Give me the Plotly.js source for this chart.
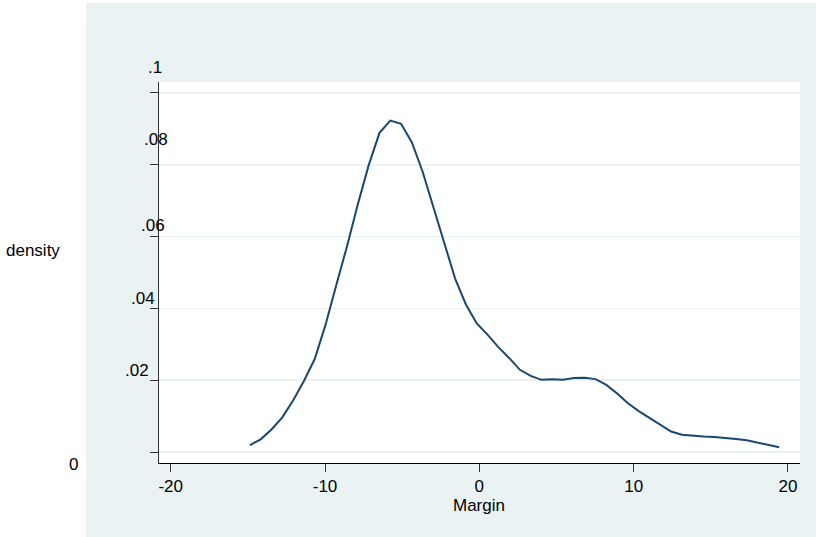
<!DOCTYPE html>
<html>
<head>
<meta charset="utf-8">
<script src="https://cdn.plot.ly/plotly-3.0.1.min.js"></script>
<style>html,body{margin:0;padding:0;background:#fff;}#chart{width:816px;height:537px;}</style>
</head>
<body>
<div id="chart"></div>
<script>
// Kernel density estimate of Margin (50 evaluation points)
const margin = [-14.87,-14.17,-13.47,-12.77,-12.07,-11.37,-10.67,-9.97,-9.27,-8.57,
  -7.87,-7.17,-6.47,-5.77,-5.07,-4.37,-3.67,-2.97,-2.27,-1.57,
  -0.87,-0.17,0.53,1.23,1.93,2.63,3.33,4.03,4.73,5.43,
  6.13,6.83,7.53,8.23,8.93,9.63,10.33,11.03,11.73,12.43,
  13.13,13.83,14.53,15.23,15.93,16.63,17.33,18.03,18.73,19.43];
const density = [0.00195,0.00354,0.00627,0.00967,0.01435,0.01978,0.0259,0.0354,0.0465,0.0574,
  0.0691,0.0799,0.0889,0.0923,0.0914,0.0862,0.0780,0.0681,0.0585,0.0483,
  0.0411,0.0358,0.0327,0.0292,0.0262,0.0229,0.0212,0.0201,0.0203,0.0201,
  0.0206,0.0207,0.0203,0.0187,0.0163,0.0136,0.0114,0.0095,0.0075,0.0057,
  0.0048,0.0045,0.0043,0.0042,0.0038,0.0036,0.0033,0.0026,0.0019,0.0013];
const xTickVals = [-20,-10,0,10,20];
const yTickVals = [0,0.02,0.04,0.06,0.08,0.1];
const yTickText = ['0','.02','.04','.06','.08','.1'];
const xTitle = 'Margin';
const yTitle = 'density';

// layout geometry (pixels)
const L = 159, R = 800, T = 82, B = 463, W = 816, H = 537;
const px = x => (x - L) / (R - L);
const py = y => (B - y) / (B - T);
// staggered y label positions as drawn in the reference
const yLabelPos = [[73.5,465],[137,370],[143,298],[153,225],[155.5,139],[155,68]];

const font = {family:'"Liberation Sans", Arial, sans-serif', size:17, color:'#000'};
const tickFont = {family:'"Liberation Sans", Arial, sans-serif', size:17, color:'#000'};
const annotations = yTickText.map((t,i)=>({
  text:t, xref:'paper', yref:'paper', x:px(yLabelPos[i][0]), y:py(yLabelPos[i][1]),
  xanchor:'center', yanchor:'middle', showarrow:false, font:font
}));
annotations.push({text:yTitle, xref:'paper', yref:'paper', x:px(33), y:py(250),
  xanchor:'center', yanchor:'middle', showarrow:false, font:font});
annotations.push({text:xTitle, xref:'paper', yref:'paper', x:px(479.3), y:py(505),
  xanchor:'center', yanchor:'middle', showarrow:false, font:font});

const trace = {x:margin, y:density, type:'scatter', mode:'lines',
  line:{color:'#1a476f', width:2}, hoverinfo:'skip'};

const layout = {
  width:W, height:H,
  margin:{l:L, r:W-R, t:T, b:H-B, pad:0},
  paper_bgcolor:'#ffffff', plot_bgcolor:'#ffffff',
  showlegend:false,
  font:font,
  xaxis:{range:[-20.76,20.78], tickvals:xTickVals, ticktext:xTickVals.map(String),
    showgrid:false, zeroline:false, showline:true, linecolor:'#000', linewidth:1,
    ticks:'outside', ticklen:8, tickwidth:1, tickcolor:'#333', tickfont:tickFont, fixedrange:true},
  yaxis:{range:[-0.00306,0.10306], tickvals:yTickVals, showticklabels:false,
    showgrid:true, gridcolor:'#eaf2f3', gridwidth:1.5, zeroline:false,
    showline:true, linecolor:'#333', linewidth:1,
    ticks:'outside', ticklen:8, tickwidth:1, tickcolor:'#333', fixedrange:true},
  shapes:[
    {type:'rect', xref:'paper', yref:'paper', x0:px(86), x1:px(816), y0:py(537), y1:py(3),
     fillcolor:'#eaf2f3', line:{width:0}, layer:'below'},
    {type:'rect', xref:'paper', yref:'paper', x0:0, x1:1, y0:0, y1:1,
     fillcolor:'#ffffff', line:{width:0}, layer:'below'}
  ],
  annotations:annotations
};
Plotly.newPlot('chart',[trace],layout,{staticPlot:true, displayModeBar:false});
</script>
</body>
</html>
